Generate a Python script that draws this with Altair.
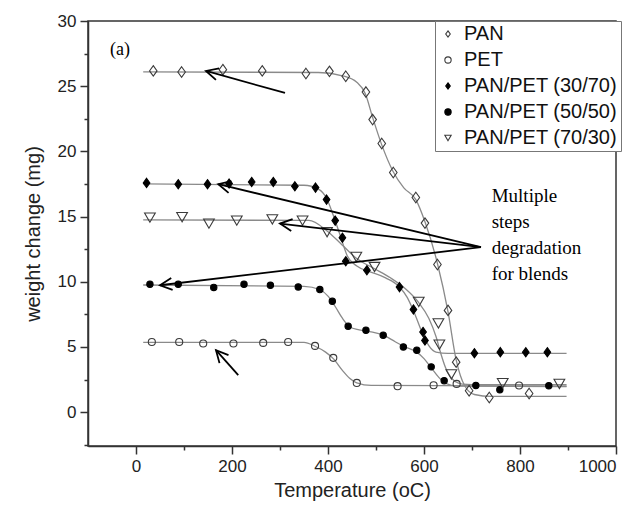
import math
import altair as alt
import pandas as pd

# ---------------- data ----------------
series_names = ["PAN", "PET", "PAN/PET (30/70)", "PAN/PET (50/50)", "PAN/PET (70/30)"]

pan_x = [36, 95, 181, 263, 354, 403, 437, 479, 493, 512, 536, 583, 602, 628, 650, 667, 694, 736, 819]
pan_y = [26.17, 26.09, 26.27, 26.17, 25.97, 26.14, 25.76, 24.55, 22.44, 20.6, 18.38, 16.46, 14.5, 11.32, 7.8, 3.83, 1.64, 1.12, 1.43]

pet_x = [33, 90, 140, 203, 265, 317, 373, 411, 460, 545, 620, 668, 798]
pet_y = [5.38, 5.38, 5.26, 5.26, 5.31, 5.38, 5.08, 4.16, 2.24, 1.99, 2.06, 2.16, 2.04]

b3070_x = [22, 88, 149, 194, 241, 286, 331, 374, 397, 415, 430, 437, 481, 549, 578, 598, 602, 705, 759, 812, 857]
b3070_y = [17.58, 17.48, 17.48, 17.53, 17.65, 17.65, 17.32, 17.22, 16.3, 14.69, 13.37, 11.57, 10.88, 9.59, 7.87, 6.15, 5.5, 4.52, 4.6, 4.59, 4.59]

b5050_x = [29, 88, 162, 225, 280, 338, 383, 409, 442, 479, 515, 557, 585, 615, 642, 708, 758, 860]
b5050_y = [9.81, 9.81, 9.56, 9.81, 9.73, 9.6, 9.4, 8.5, 6.59, 6.28, 5.9, 5.0, 4.75, 3.47, 2.41, 2.04, 1.71, 2.02]

b7030_x = [29, 96, 152, 210, 284, 347, 398, 459, 497, 589, 630, 632, 657, 764, 882]
b7030_y = [14.92, 14.95, 14.46, 14.69, 14.78, 14.69, 13.8, 11.9, 11.13, 8.45, 6.8, 5.17, 2.89, 2.22, 2.16]

# fitted (smooth) curves
pan_cx = [15, 380, 430, 460, 478, 493, 512, 535, 558, 583, 602, 628, 650, 667, 685, 705, 740, 897]
pan_cy = [26.1, 26.05, 25.8, 25.3, 24.4, 22.6, 20.5, 18.5, 17.2, 16.3, 14.6, 11.4, 7.7, 4.0, 2.0, 1.35, 1.2, 1.2]

pet_cx = [15, 350, 373, 395, 411, 430, 445, 460, 490, 897]
pet_cy = [5.35, 5.35, 5.05, 4.6, 4.1, 3.2, 2.6, 2.25, 2.05, 2.0]

b3070_cx = [15, 350, 380, 397, 410, 425, 440, 460, 485, 520, 549, 565, 580, 595, 610, 625, 650, 897]
b3070_cy = [17.5, 17.4, 17.1, 16.4, 15.2, 13.6, 12.0, 11.2, 10.8, 10.3, 9.6, 8.8, 7.6, 6.2, 5.1, 4.6, 4.5, 4.5]

b5050_cx = [15, 350, 383, 400, 415, 430, 445, 465, 490, 515, 540, 560, 585, 600, 615, 630, 645, 670, 897]
b5050_cy = [9.75, 9.65, 9.4, 8.9, 8.1, 7.2, 6.55, 6.3, 6.15, 5.9, 5.4, 5.0, 4.6, 4.1, 3.4, 2.7, 2.2, 2.0, 1.95]

b7030_cx = [15, 360, 398, 430, 459, 497, 530, 560, 589, 610, 625, 635, 645, 660, 680, 720, 897]
b7030_cy = [14.75, 14.7, 13.9, 12.8, 11.8, 11.0, 10.3, 9.5, 8.4, 7.2, 5.8, 4.5, 3.4, 2.5, 2.15, 2.1, 2.1]

# annotation arrows: tail -> head (data units)
arrow_tail_x = [310.4, 718.75, 718.75, 718.75, 213]
arrow_tail_y = [24.48, 12.65, 12.65, 12.65, 2.83]
arrow_head_x = [145.8, 171.5, 300, 50, 166.7]
arrow_head_y = [26.17, 17.48, 14.46, 9.73, 4.75]

note_lines = ["Multiple", "steps", "degradation", "for blends"]
note_x = [741, 741, 741, 741]
note_y = [16.6, 14.6, 12.6, 10.6]

panel_label = "(a)"
panel_x = -54
panel_y = 27.8

x_domain = [-100, 1000]
y_domain = [-2.6, 30]
W, H = 528, 425

# ---------------- tables ----------------
pts = []
for name, xs, ys in zip(series_names,
                        [pan_x, pet_x, b3070_x, b5050_x, b7030_x],
                        [pan_y, pet_y, b3070_y, b5050_y, b7030_y]):
    for a, b in zip(xs, ys):
        pts.append({"series": name, "x": a, "y": b})
pts_df = pd.DataFrame(pts)

crv = []
for name, xs, ys in zip(series_names,
                        [pan_cx, pet_cx, b3070_cx, b5050_cx, b7030_cx],
                        [pan_cy, pet_cy, b3070_cy, b5050_cy, b7030_cy]):
    for a, b in zip(xs, ys):
        crv.append({"series": name, "x": a, "y": b})
crv_df = pd.DataFrame(crv)

sx = W / (x_domain[1] - x_domain[0])
sy = H / (y_domain[1] - y_domain[0])
arr = []
for tx, ty, hx, hy in zip(arrow_tail_x, arrow_tail_y, arrow_head_x, arrow_head_y):
    dx = (hx - tx) * sx
    dy = -(hy - ty) * sy
    ang = math.degrees(math.atan2(-dy, -dx)) % 360
    arr.append({"x": hx, "y": hy, "x2": tx, "y2": ty, "angle": ang})
arr_df = pd.DataFrame(arr)

note_df = pd.DataFrame({"label": note_lines, "x": note_x, "y": note_y})
panel_df = pd.DataFrame({"label": [panel_label], "x": [panel_x], "y": [panel_y]})

# ---------------- encodings ----------------
DIAMOND = "M0,-1L0.72,0L0,1L-0.72,0Z"
shape_range = [DIAMOND, "circle", DIAMOND, "circle", "triangle-down"]
fill_range = ["transparent", "transparent", "black", "black", "transparent"]
stroke_range = ["#3a3a3a", "#3a3a3a", "black", "black", "#3a3a3a"]
size_range = [110, 50, 85, 40, 115]

xscale = alt.Scale(domain=x_domain, nice=False, zero=False)
yscale = alt.Scale(domain=y_domain, nice=False, zero=False)

x_axis = alt.Axis(
    values=list(range(0, 1001, 100)),
    format="d",
    labelExpr="datum.value % 200 === 0 ? datum.label : ''",
    tickSize={"condition": {"test": "datum.value % 200 === 0", "value": 8}, "value": 4},
    title="Temperature (oC)",
    titlePadding=6,
    labelPadding=4,
)
y_axis = alt.Axis(
    values=[-2.5 + 2.5 * i for i in range(14)],
    format="d",
    labelExpr="datum.value % 5 === 0 ? datum.label : ''",
    tickSize={"condition": {"test": "datum.value % 5 === 0", "value": 8}, "value": 4},
    title="weight change (mg)",
    titlePadding=14,
    labelPadding=4,
)

X = alt.X("x:Q", scale=xscale, axis=x_axis)
Y = alt.Y("y:Q", scale=yscale, axis=y_axis)

curves = alt.Chart(crv_df).mark_line(
    interpolate="monotone", color="#8a8a8a", strokeWidth=1.3
).encode(x=X, y=Y, detail="series:N")

shape_enc = alt.Shape("series:N", scale=alt.Scale(domain=series_names, range=shape_range), title=None)
fill_enc = alt.Fill("series:N", scale=alt.Scale(domain=series_names, range=fill_range), title=None)
stroke_enc = alt.Stroke("series:N", scale=alt.Scale(domain=series_names, range=stroke_range), title=None)

point_layers = []
for name, sz in zip(series_names, size_range):
    point_layers.append(
        alt.Chart(pts_df).transform_filter(alt.datum.series == name)
        .mark_point(strokeWidth=1.1, opacity=1, size=sz)
        .encode(x=X, y=Y, shape=shape_enc, fill=fill_enc, stroke=stroke_enc)
    )

shafts = alt.Chart(arr_df).mark_rule(color="black", strokeWidth=1.8).encode(
    x=X, y=Y, x2="x2:Q", y2="y2:Q"
)
heads = alt.Chart(arr_df).mark_point(
    shape="M1,-0.5L0,0L1,0.5", size=576, filled=False, color="black", strokeWidth=1.8, opacity=1
).encode(x=X, y=Y, angle=alt.Angle("angle:Q", scale=None))

notes = alt.Chart(note_df).mark_text(
    font="Liberation Serif", fontSize=19, align="left", baseline="middle", color="black"
).encode(x=X, y=Y, text="label:N")

panel = alt.Chart(panel_df).mark_text(
    font="Liberation Serif", fontSize=18, align="left", baseline="middle", color="black"
).encode(x=X, y=Y, text="label:N")

chart = alt.layer(curves, *point_layers, shafts, heads, notes, panel).properties(
    width=W, height=H,
    autosize=alt.AutoSizeParams(type="none"),
    padding={"left": 80, "top": 13, "right": 10, "bottom": 55},
).configure_view(
    stroke="#333", strokeWidth=1.5
).configure_axis(
    grid=False, domainColor="#333", domainWidth=1.5, tickColor="#333", tickWidth=1.5,
    labelFont="Liberation Sans", labelFontSize=17, labelColor="#222",
    titleFont="Liberation Sans", titleFontSize=20, titleFontWeight="normal", titleColor="#222",
).configure_legend(
    orient="none", legendX=347, legendY=0, direction="vertical",
    strokeColor="#777", fillColor="white", padding=3,
    labelFont="Liberation Sans", labelFontSize=20, labelColor="#111",
    rowPadding=6, labelOffset=6, symbolStrokeWidth=1.1, labelLimit=300,
    symbolSize=40,
)

chart.save("out.html", embed_options={"renderer": "svg", "actions": False})
